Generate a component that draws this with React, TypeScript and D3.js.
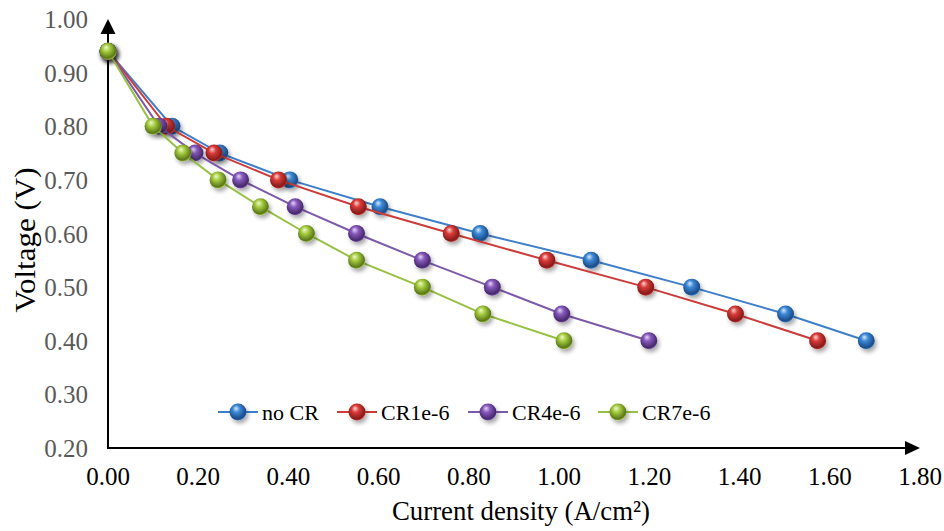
import * as d3 from "d3";

// current density (A/cm2) per series, voltage levels shared
const voltages = [0.94, 0.8, 0.75, 0.7, 0.65, 0.6, 0.55, 0.5, 0.45, 0.4];
const noCR = [0, 0.142, 0.248, 0.403, 0.603, 0.825, 1.071, 1.294, 1.502, 1.681];
const cr1e6 = [0, 0.13, 0.235, 0.378, 0.555, 0.761, 0.973, 1.192, 1.391, 1.573];
const cr4e6 = [0, 0.113, 0.193, 0.294, 0.415, 0.551, 0.697, 0.852, 1.006, 1.199];
const cr7e6 = [0, 0.1, 0.166, 0.244, 0.338, 0.44, 0.551, 0.697, 0.831, 1.011];

const seriesNames = ["no CR", "CR1e-6", "CR4e-6", "CR7e-6"];
const xTicks = [0, 0.2, 0.4, 0.6, 0.8, 1.0, 1.2, 1.4, 1.6, 1.8];
const yTicks = [0.2, 0.3, 0.4, 0.5, 0.6, 0.7, 0.8, 0.9, 1.0];

// line colour, sphere light / mid / dark
const palette = [
  { line: "#3f7fca", hi: "#d6e8fa", mid: "#3a88d6", dark: "#1d4a86" },
  { line: "#cc3c3a", hi: "#fad4d2", mid: "#d93a38", dark: "#851b1a" },
  { line: "#7d5aa9", hi: "#e4d6f4", mid: "#8759bd", dark: "#46296b" },
  { line: "#98c043", hi: "#eef8cf", mid: "#a5cc3f", dark: "#5a7618" },
];

const W = 944;
const H = 531;
const font = '"Liberation Serif", "Times New Roman", serif';

export default function App() {
  const x = d3.scaleLinear().domain([0, 1.8]).range([108, 920]);
  const y = d3.scaleLinear().domain([0.2, 1.0]).range([448, 19]);
  const all = [noCR, cr1e6, cr4e6, cr7e6];
  const line = d3
    .line<number>()
    .x((d) => x(d))
    .y((_, i) => y(voltages[i]));

  const R = 8.5;
  const fmt = d3.format(".2f");

  // legend slots
  const legendX = [218, 337, 468, 598];
  const legendY = 412;

  return (
    <svg
      width={W}
      height={H}
      style={{ position: "absolute", left: 0, top: 0, background: "#fff", fontFamily: font }}
    >
      <defs>
        {palette.map((p, i) => (
          <radialGradient key={i} id={`ball${i}`} cx="45%" cy="40%" r="62%" fx="38%" fy="28%">
            <stop offset="0%" stopColor={p.hi} />
            <stop offset="35%" stopColor={p.mid} />
            <stop offset="85%" stopColor={p.dark} />
            <stop offset="100%" stopColor={p.mid} />
          </radialGradient>
        ))}
        <filter id="shadow" x="-50%" y="-50%" width="200%" height="200%">
          <feDropShadow dx="2" dy="3" stdDeviation="2" floodColor="#000" floodOpacity="0.35" />
        </filter>
      </defs>

      {/* y tick labels */}
      {yTicks.map((t) => (
        <text
          key={t}
          x={88}
          y={y(t)}
          dy="0.36em"
          textAnchor="end"
          fontSize={25}
          fill="#595959"
        >
          {fmt(t)}
        </text>
      ))}
      {/* x tick labels */}
      {xTicks.map((t) => (
        <text key={t} x={x(t)} y={485} textAnchor="middle" fontSize={25} fill="#000">
          {fmt(t)}
        </text>
      ))}

      {/* axes with arrows */}
      <line x1={x(0)} y1={y(0.2)} x2={x(0)} y2={y(1.0) + 12} stroke="#000" strokeWidth={2} />
      <path
        d={`M${x(0)},${y(1.0)} L${x(0) - 7.5},${y(1.0) + 15} L${x(0) + 7.5},${y(1.0) + 15} Z`}
        fill="#000"
      />
      <line x1={x(0) - 1} y1={y(0.2)} x2={x(1.8) - 12} y2={y(0.2)} stroke="#000" strokeWidth={2} />
      <path
        d={`M${x(1.8)},${y(0.2)} L${x(1.8) - 15},${y(0.2) - 7} L${x(1.8) - 15},${y(0.2) + 7} Z`}
        fill="#000"
      />

      {/* axis titles */}
      <text
        x={392}
        y={520}
        fontSize={28}
        fill="#000"
        textLength={258}
        lengthAdjust="spacingAndGlyphs"
      >
        Current density (A/cm²)
      </text>
      <text
        transform={`translate(35,240) rotate(-90)`}
        textAnchor="middle"
        fontSize={30}
        fill="#000"
        textLength={145}
        lengthAdjust="spacingAndGlyphs"
      >
        Voltage (V)
      </text>

      {/* series */}
      {all.map((s, si) => (
        <g key={si}>
          <path d={line(s) || ""} fill="none" stroke={palette[si].line} strokeWidth={2} />
          {s.map((d, i) => (
            <circle
              key={i}
              cx={x(d)}
              cy={y(voltages[i])}
              r={R}
              fill={`url(#ball${si})`}
              filter="url(#shadow)"
            />
          ))}
        </g>
      ))}

      {/* legend */}
      {seriesNames.map((n, i) => (
        <g key={n} transform={`translate(${legendX[i]},${legendY})`}>
          <line x1={0} x2={40} y1={0} y2={0} stroke={palette[i].line} strokeWidth={2} />
          <circle cx={20} cy={0} r={R} fill={`url(#ball${i})`} filter="url(#shadow)" />
          <text x={44} y={0} dy="0.36em" fontSize={22} fill="#000">
            {n}
          </text>
        </g>
      ))}
    </svg>
  );
}
